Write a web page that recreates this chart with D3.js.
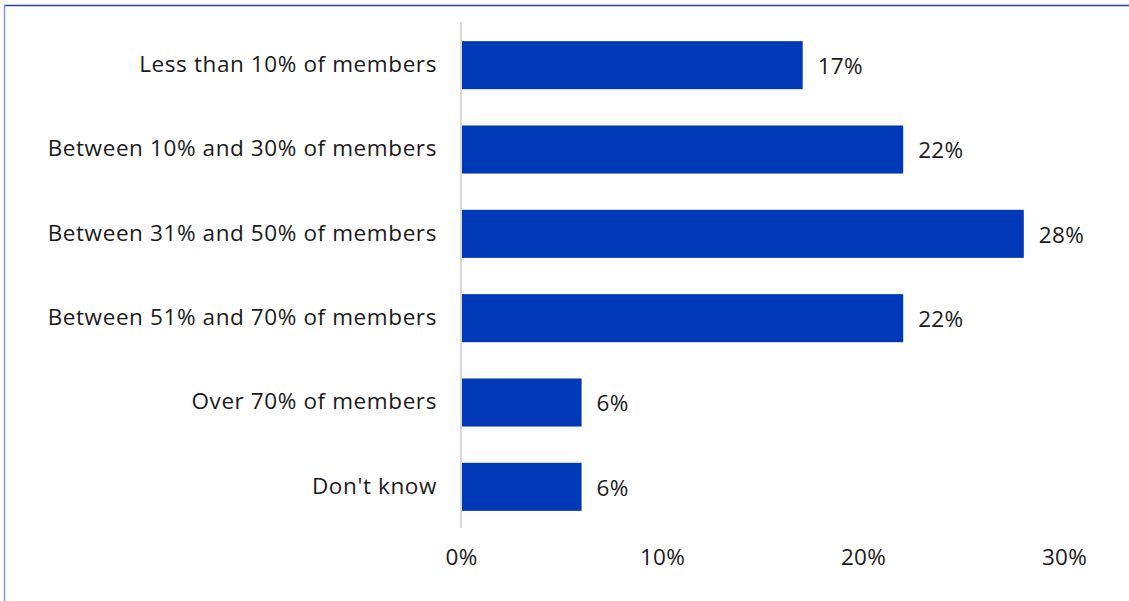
<!DOCTYPE html>
<html>
<head>
<meta charset="utf-8">
<script src="https://cdn.jsdelivr.net/npm/d3@7"></script>
<style>
  html, body { margin: 0; padding: 0; background: #fff; }
  svg { display: block; }
  text { font-family: "Open Sans", "Noto Sans", sans-serif; fill: #1a1a1a; letter-spacing: 0.3px; }
  .cat-label { letter-spacing: 0.6px; }
</style>
</head>
<body>
<svg id="chart" width="1129" height="601"></svg>
<script>
// Share of members, by response category
const categories = [
  "Less than 10% of members",
  "Between 10% and 30% of members",
  "Between 31% and 50% of members",
  "Between 51% and 70% of members",
  "Over 70% of members",
  "Don't know"
];
const values = [17, 22, 28, 22, 6, 6];
const tickValues = [0, 10, 20, 30];

const W = 1129, H = 601;
const FS = 22.5;
const svg = d3.select("#chart");

// frame lines along the top and left edges
svg.append("line")
  .attr("x1", 4).attr("x2", W).attr("y1", 5.5).attr("y2", 5.5)
  .attr("stroke", "#1f48a8").attr("stroke-width", 1.5);
svg.append("line")
  .attr("x1", 4.5).attr("x2", 4.5).attr("y1", 5).attr("y2", H)
  .attr("stroke", "#7d9cf0").attr("stroke-width", 1.5);

const x = d3.scaleLinear().domain([0, 30]).range([461, 1064]);
const y = d3.scaleBand().domain(categories).range([22, 528]).paddingInner(0.43).paddingOuter(0.215);

// bars
svg.append("g").selectAll("rect")
  .data(categories)
  .join("rect")
  .attr("x", x(0))
  .attr("y", d => y(d) + 1)
  .attr("width", (d, i) => x(values[i]) - x(0))
  .attr("height", y.bandwidth())
  .attr("fill", "#0039b8");

// vertical baseline
svg.append("line")
  .attr("x1", x(0)).attr("x2", x(0))
  .attr("y1", 22).attr("y2", 528)
  .attr("stroke", "#d9d9d9").attr("stroke-width", 2);

// category labels
svg.append("g").selectAll("text")
  .data(categories)
  .join("text")
  .attr("class", "cat-label")
  .attr("x", x(0) - 24)
  .attr("y", d => y(d) + y.bandwidth() / 2)
  .attr("dy", "0.35em")
  .attr("text-anchor", "end")
  .attr("font-size", FS)
  .text(d => d);

// value labels
svg.append("g").selectAll("text")
  .data(categories)
  .join("text")
  .attr("x", (d, i) => x(values[i]) + 15)
  .attr("y", d => y(d) + y.bandwidth() / 2 + 2)
  .attr("dy", "0.35em")
  .attr("font-size", FS)
  .text((d, i) => values[i] + "%");

// x axis tick labels
const xAxis = d3.axisBottom(x).tickValues(tickValues).tickSize(0).tickPadding(0)
  .tickFormat(d => d + "%");
const gx = svg.append("g").attr("transform", "translate(0,549)").call(xAxis);
gx.select(".domain").remove();
gx.selectAll("text")
  .attr("font-size", FS)
  .attr("font-family", "'Open Sans', 'Noto Sans', sans-serif")
  .attr("fill", "#1a1a1a");
</script>
</body>
</html>
